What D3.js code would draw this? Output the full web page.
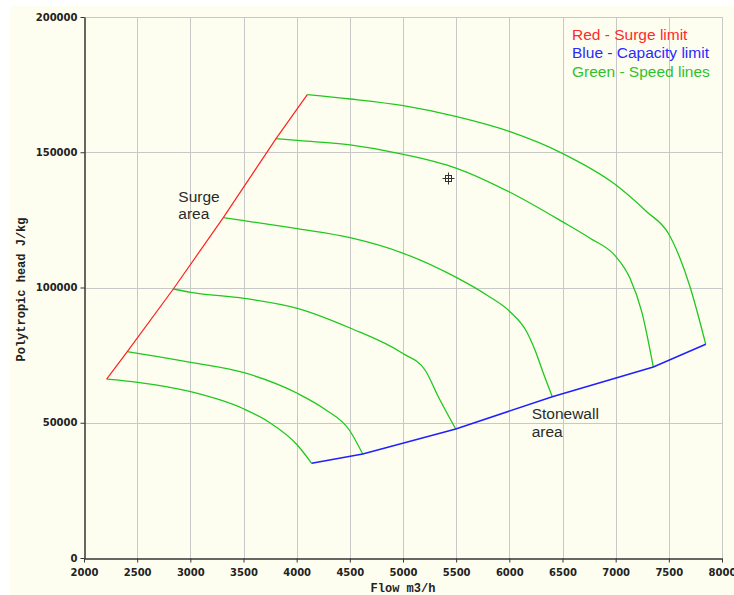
<!DOCTYPE html>
<html><head><meta charset="utf-8">
<script src="https://cdn.jsdelivr.net/npm/d3@7"></script>
<style>
html,body{margin:0;padding:0;background:#ffffff;}
svg{display:block;}
</style></head>
<body>
<svg id="chart" width="734" height="595"></svg>
<script>
// ---- data (flow m3/h, polytropic head J/kg) ----
const xTicks = [2000,2500,3000,3500,4000,4500,5000,5500,6000,6500,7000,7500,8000];
const yTicks = [0,50000,100000,150000,200000];

const surgeLimit = [[2213,66100],[2407,76270],[2840,99450],[3310,125810],[3806,155020],[4100,171270]];
const capacityLimit = [[4141,35010],[4621,38450],[5496,47690],[6404,59630],[7354,70600],[7847,79000]];

const speed1 = [[2213,66100],[2505,64960],[3003,61480],[3505,55090],[3733,50390],[4006,41780],[4141,35010]];
const speed2 = [[2407,76270],[2505,75680],[3003,72350],[3505,68510],[4006,60890],[4266,54970],[4495,47320],[4621,38450]];
const speed3 = [[2840,99450],[3003,98230],[3505,96010],[4006,92310],[4502,85030],[4995,75680],[5207,69500],[5332,59630],[5496,47690]];
const speed4 = [[3310,125810],[3505,124700],[4006,121740],[4502,118420],[5003,112650],[5505,103630],[5787,97230],[6006,91060],[6163,83660],[6241,76900],[6320,68290],[6404,59630]];
const speed5 = [[3806,155020],[4031,154280],[4502,152690],[5003,149250],[5505,144080],[6006,135210],[6498,124340],[6759,118200],[6994,111770],[7135,103410],[7245,91060],[7354,70600]];
const speed6 = [[4100,171270],[4502,169690],[5003,167210],[5505,163140],[6006,157600],[6498,149610],[6994,138150],[7292,128020],[7495,120040],[7605,110800],[7699,100300],[7847,79000]];
const speedLines = [speed1,speed2,speed3,speed4,speed5,speed6];

const markerPoint = [5420,140400];

const legendLines = ["Red - Surge limit","Blue - Capacity limit","Green - Speed lines"];
const legendColors = ["#ff2a2a","#2a2aff","#2ec22e"];
const surgeLabel = ["Surge","area"];
const stonewallLabel = ["Stonewall","area"];
const surgeLabelAt = [2887,131700];
const stonewallLabelAt = [6210,51280];

// ---- drawing ----
const svg = d3.select("#chart");
const W = 734, H = 595;
const m = {left:84, right:722, top:17, bottom:558};

svg.append("rect").attr("x",10).attr("y",6).attr("width",W-10).attr("height",H-6).attr("fill","#fefef0");

const x = d3.scaleLinear().domain([2000,8000]).range([m.left,m.right]);
const y = d3.scaleLinear().domain([0,200000]).range([m.bottom,m.top]);

// grid
const grid = svg.append("g").attr("stroke","#c8c8c8").attr("stroke-width",1);
grid.selectAll("line.v").data(xTicks.filter(d=>d>2000)).enter().append("line")
  .attr("x1",d=>Math.round(x(d))+0.5).attr("x2",d=>Math.round(x(d))+0.5)
  .attr("y1",y(200000)).attr("y2",y(0));
grid.selectAll("line.h").data(yTicks.filter(d=>d>0)).enter().append("line")
  .attr("x1",x(2000)).attr("x2",x(8000))
  .attr("y1",d=>Math.round(y(d))+0.5).attr("y2",d=>Math.round(y(d))+0.5);

// axes
const tickFont = "DejaVu Sans, sans-serif";
const yAxis = svg.append("g").attr("transform",`translate(${m.left+0.5},0)`)
  .call(d3.axisLeft(y).tickValues(yTicks).tickSize(4).tickSizeOuter(0).tickPadding(3).tickFormat(d3.format("d")));
const xAxis = svg.append("g").attr("transform",`translate(0,${m.bottom+0.5})`)
  .call(d3.axisBottom(x).tickValues(xTicks).tickSize(4).tickSizeOuter(0).tickPadding(6).tickFormat(d3.format("d")));
[xAxis,yAxis].forEach(a=>{
  a.select(".domain").attr("stroke","#333").attr("stroke-width",1.5);
  a.selectAll(".tick line").attr("stroke","#333");
  a.selectAll(".tick text").attr("fill","#222").style("font-family",tickFont).style("font-size","10px").style("font-weight","bold");
});

// axis titles
svg.append("text").attr("x",x(5000)).attr("y",592).attr("text-anchor","middle")
  .style("font-family","Liberation Mono, monospace").style("font-size","12px").style("font-weight","bold").attr("fill","#222")
  .text("Flow m3/h");
svg.append("text").attr("transform",`translate(25,${y(100000)+2}) rotate(-90)`).attr("text-anchor","middle")
  .style("font-family","Liberation Mono, monospace").style("font-size","12px").style("font-weight","bold").attr("fill","#222")
  .text("Polytropic head J/kg");

// lines
const linear = d3.line().x(d=>x(d[0])).y(d=>y(d[1]));
const smooth = d3.line().x(d=>x(d[0])).y(d=>y(d[1])).curve(d3.curveMonotoneX);

svg.append("g").selectAll("path").data(speedLines).enter().append("path")
  .attr("d",smooth).attr("fill","none").attr("stroke","#1ec81e").attr("stroke-width",1.3);
svg.append("path").datum(surgeLimit).attr("d",linear).attr("fill","none").attr("stroke","#ff2020").attr("stroke-width",1.2);
svg.append("path").datum(capacityLimit).attr("d",linear).attr("fill","none").attr("stroke","#2020ff").attr("stroke-width",1.5);

// marker
const mk = svg.append("g").attr("transform",`translate(${Math.round(x(markerPoint[0]))+0.5},${Math.round(y(markerPoint[1]))+0.5})`)
  .attr("stroke","#333").attr("fill","none").attr("stroke-width",1);
mk.append("rect").attr("x",-3).attr("y",-3).attr("width",6).attr("height",6);
mk.append("line").attr("x1",-6).attr("x2",6).attr("y1",0).attr("y2",0);
mk.append("line").attr("x1",0).attr("x2",0).attr("y1",-6).attr("y2",6);

// annotation labels
const labFont = "Liberation Sans, Arial, sans-serif";
function multiText(lines, at){
  const t = svg.append("text").attr("x",x(at[0])).attr("y",y(at[1]))
    .style("font-family",labFont).style("font-size","15.5px").attr("fill","#2a2a2a");
  lines.forEach((l,i)=>t.append("tspan").attr("x",x(at[0])).attr("dy",i===0?0:17.6).text(l));
}
multiText(surgeLabel, surgeLabelAt);
multiText(stonewallLabel, stonewallLabelAt);

// legend
svg.append("g").selectAll("text").data(legendLines).enter().append("text")
  .attr("x",572).attr("y",(d,i)=>40+i*18.3)
  .style("font-family",labFont).style("font-size","15.5px")
  .attr("fill",(d,i)=>legendColors[i]).text(d=>d);
</script>
</body></html>
